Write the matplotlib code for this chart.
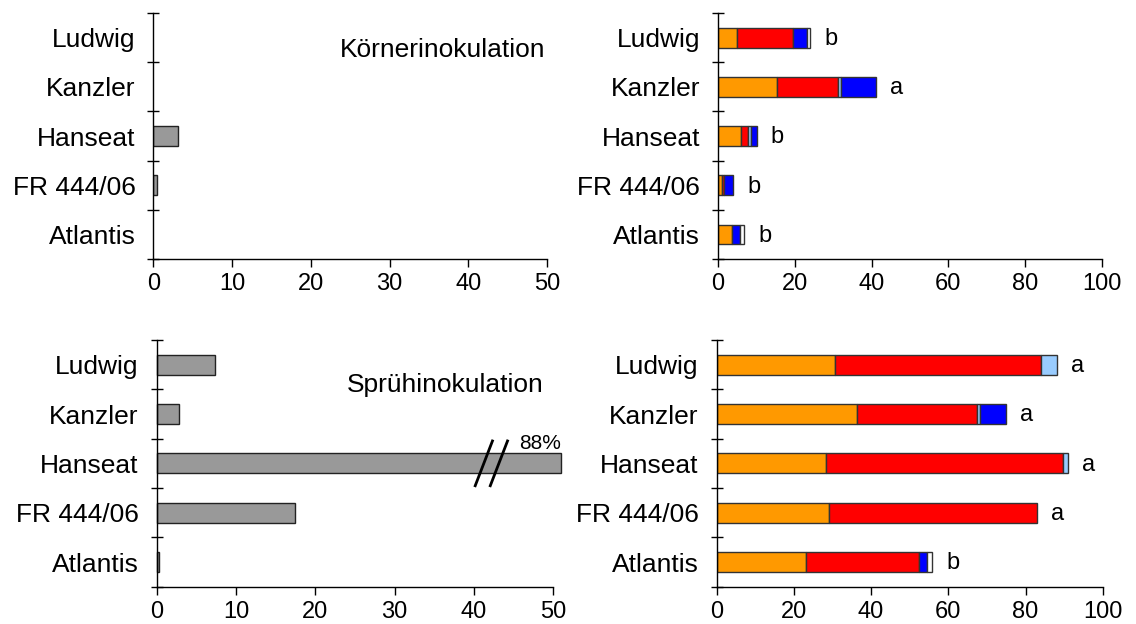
import numpy as np
import matplotlib.pyplot as plt

plt.rcParams['font.family'] = ['Liberation Sans', 'DejaVu Sans']

sorten = ["Ludwig", "Kanzler", "Hanseat", "FR 444/06", "Atlantis"]

# Befallshäufigkeit (%) links
koerner_gesamt = [0.0, 0.0, 3.1, 0.4, 0.0]
spruehen_gesamt = [7.35, 2.85, 88.0, 17.4, 0.35]
achse_links_max = 50
balken_kappung = 51  # Hanseat-Balken wird abgeschnitten (Achsenbruch)

# Befallsklassen rechts, Körnerinokulation
k_orange = [5.0, 15.5, 5.9, 1.1, 3.7]
k_rot = [14.6, 15.7, 2.0, 0.5, 0.0]
k_hellblau = [0.0, 0.9, 0.7, 0.0, 0.0]
k_blau = [3.5, 9.0, 1.5, 2.4, 2.1]
k_weiss = [1.0, 0.0, 0.0, 0.0, 1.0]
k_buchstaben = ["b", "a", "b", "b", "b"]

# Befallsklassen rechts, Sprühinokulation
s_orange = [30.6, 36.3, 28.2, 29.1, 23.1]
s_rot = [53.3, 31.1, 61.6, 53.8, 29.4]
s_hellblau = [4.2, 0.8, 1.2, 0.0, 0.0]
s_blau = [0.0, 6.7, 0.0, 0.0, 2.1]
s_weiss = [0.0, 0.0, 0.0, 0.0, 1.3]
s_buchstaben = ["a", "a", "a", "a", "b"]

farben = ["#FF9900", "#FF0000", "#99CCFF", "#0000FF", "#FFFFFF"]

fig = plt.figure(figsize=(11.36, 6.24), dpi=100)
ax_kl = fig.add_axes([0.1351, 0.585, 0.3463, 0.394])
ax_sl = fig.add_axes([0.1379, 0.0598, 0.3491, 0.3953])
ax_kr = fig.add_axes([0.6320, 0.585, 0.3380, 0.394])
ax_sr = fig.add_axes([0.6309, 0.0598, 0.3398, 0.3953])

n = len(sorten)
ypos = np.arange(n)[::-1]  # Ludwig oben
hoehe = 0.4


def achsen_stil(ax, xmax, xstep):
    ax.set_ylim(-0.5, n - 0.5)
    ax.set_xlim(0, xmax)
    for s in ["top", "right"]:
        ax.spines[s].set_visible(False)
    for s in ["left", "bottom"]:
        ax.spines[s].set_linewidth(1.0)
        ax.spines[s].set_color("black")
    ax.set_yticks(np.arange(-0.5, n, 1.0))
    ax.set_yticklabels([])
    ax.set_yticks(ypos, minor=True)
    ax.set_yticklabels(sorten, minor=True, fontsize=19)
    ax.tick_params(axis="y", which="major", direction="inout", length=8, width=1)
    ax.tick_params(axis="y", which="minor", length=0, pad=13)
    ax.set_xticks(np.arange(0, xmax + 1, xstep))
    ax.tick_params(axis="x", direction="out", length=6, width=1, labelsize=17, pad=4)


# links oben
achsen_stil(ax_kl, achse_links_max, 10)
for y, v in zip(ypos, koerner_gesamt):
    if v > 0:
        ax_kl.barh(y, v, height=hoehe, color="#999999", edgecolor="#222222", linewidth=1)
ax_kl.text(0.995, 0.85, "Körnerinokulation", transform=ax_kl.transAxes,
           ha="right", va="center", fontsize=19)

# links unten
achsen_stil(ax_sl, achse_links_max, 10)
for y, v in zip(ypos, spruehen_gesamt):
    w = min(v, balken_kappung)
    ax_sl.barh(y, w, height=hoehe, color="#999999", edgecolor="#222222", linewidth=1,
               clip_on=False)
    if v > balken_kappung:
        # Achsenbruch-Markierung
        for xb in (40.1, 42.0):
            ax_sl.plot([xb, xb + 2.3], [y - 0.48, y + 0.48], color="black", lw=2,
                       clip_on=False, solid_capstyle="butt")
        ax_sl.text(w, y + hoehe / 2 + 0.01, f"{v:.0f}%", ha="right", va="bottom",
                   fontsize=15)
ax_sl.text(0.975, 0.818, "Sprühinokulation", transform=ax_sl.transAxes,
           ha="right", va="center", fontsize=19)


def gestapelt(ax, reihen, buchstaben):
    achsen_stil(ax, 100, 20)
    links = np.zeros(n)
    for werte, farbe in zip(reihen, farben):
        werte = np.array(werte)
        for i in range(n):
            if werte[i] > 0:
                ax.barh(ypos[i], werte[i], left=links[i], height=hoehe, color=farbe,
                        edgecolor="#333333", linewidth=1)
        links += werte
    for i in range(n):
        ax.annotate(buchstaben[i], (links[i], ypos[i]), xytext=(10, -1),
                    textcoords="offset points", ha="left", va="center", fontsize=17)


gestapelt(ax_kr, [k_orange, k_rot, k_hellblau, k_blau, k_weiss], k_buchstaben)
gestapelt(ax_sr, [s_orange, s_rot, s_hellblau, s_blau, s_weiss], s_buchstaben)

fig.savefig("out.png", dpi=100)
